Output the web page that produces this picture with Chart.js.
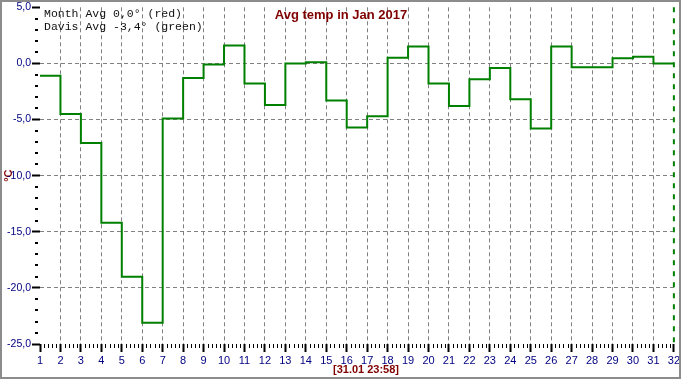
<!DOCTYPE html>
<html>
<head>
<meta charset="utf-8">
<script src="https://cdn.jsdelivr.net/npm/chart.js@4/dist/chart.umd.min.js"></script>
<style>
  body { margin: 0; background: #fff; }
  #wrap { width: 682px; height: 380px; }
</style>
</head>
<body>
<div id="wrap"><canvas id="avg-temp" width="682" height="380"></canvas></div>
<script>
// daily average temperatures, Jan 2017 (°C)
const days = [1, 2, 3, 4, 5, 6, 7, 8, 9, 10, 11, 12, 13, 14, 15, 16,
              17, 18, 19, 20, 21, 22, 23, 24, 25, 26, 27, 28, 29, 30, 31];
const davisAvg = [-1.1, -4.5, -7.1, -14.2, -19.0, -23.1, -4.9, -1.3, -0.1, 1.6, -1.8,
                  -3.7, 0.0, 0.1, -3.3, -5.7, -4.7, 0.5, 1.5, -1.8, -3.8, -1.4,
                  -0.4, -3.2, -5.8, 1.5, -0.35, -0.35, 0.45, 0.6, 0.0];
const monthEnd = 32;
const legendLines = ['Month Avg 0,0\u00b0 (red)', 'Davis Avg -3,4\u00b0 (green)'];
const chartTitle = 'Avg temp in Jan 2017';
const stampText = '[31.01 23:58]';

const green = '#008000';
const navy = '#000080';
const maroon = '#800000';

function stepPoints(xs, ys, endX) {
    let pts = [];
    for (let i = 0; i < xs.length; i++) {
        pts.push({x: xs[i], y: ys[i]});
    }
    // hold the last day until the end of the month
    pts.push({x: endX, y: ys[ys.length - 1]});
    return pts;
}

// minor ticks, texts and frame
const decorations = {
    id: 'decorations',
    afterDraw(chart) {
        const ctx = chart.ctx;
        const xs = chart.scales.x;
        const ys = chart.scales.y;
        ctx.save();
        ctx.strokeStyle = '#000';
        // x minor ticks
        ctx.lineWidth = 1;
        for (let d = xs.min; d < xs.max; d++) {
            for (let k = 1; k < 5; k++) {
                const px = Math.round(xs.getPixelForValue(d + k / 5)) + 0.5;
                ctx.beginPath();
                ctx.moveTo(px, ys.bottom);
                ctx.lineTo(px, ys.bottom + 4);
                ctx.stroke();
            }
        }
        // y minor ticks
        ctx.lineWidth = 2;
        for (let v = ys.min + 1; v < ys.max; v++) {
            if (v % 5 === 0) continue;
            const py = Math.round(ys.getPixelForValue(v));
            ctx.beginPath();
            ctx.moveTo(xs.left - 5, py);
            ctx.lineTo(xs.left - 2, py);
            ctx.stroke();
        }
        // title
        ctx.fillStyle = maroon;
        ctx.font = 'bold 13px "Liberation Sans", Arial, sans-serif';
        ctx.textAlign = 'center';
        ctx.textBaseline = 'alphabetic';
        ctx.fillText(chartTitle, 341, 19);
        // time stamp
        ctx.font = 'bold 11px "Liberation Sans", Arial, sans-serif';
        ctx.fillText(stampText, 366, 373);
        // legend text
        ctx.fillStyle = '#111';
        ctx.font = '11.5px "Liberation Mono", "Courier New", monospace';
        ctx.textAlign = 'left';
        ctx.fillText(legendLines[0], 44, 17);
        ctx.fillText(legendLines[1], 44, 30);
        // frame
        ctx.strokeStyle = '#8c8c8c';
        ctx.lineWidth = 2;
        ctx.strokeRect(1, 1, 679, 377);
        ctx.restore();
    }
};

const tempElement = document.getElementById('avg-temp');
const tempChart = new Chart(tempElement, {
    type: 'line',
    data: {
        datasets: [{
            label: 'Davis Avg',
            data: stepPoints(days, davisAvg, monthEnd),
            borderColor: green,
            borderWidth: 2,
            stepped: true,
            pointRadius: 0,
            fill: false,
            clip: false
        }, {
            label: 'Now',
            data: [{x: monthEnd, y: 5}, {x: monthEnd, y: -25}],
            borderColor: green,
            borderWidth: 2,
            borderDash: [5, 6],
            pointRadius: 0,
            fill: false,
            clip: false
        }]
    },
    options: {
        responsive: false,
        animation: false,
        layout: {padding: {top: 5, right: 5, bottom: 0, left: 0}},
        plugins: {
            legend: {display: false},
            tooltip: {enabled: false},
            title: {display: false}
        },
        scales: {
            x: {
                type: 'linear',
                min: 1,
                max: 32,
                afterFit: function (scale) { scale.height = 36; },
                border: {display: false, dash: [4, 3]},
                grid: {
                    color: function (c) {
                        const v = c.tick && c.tick.value;
                        return (v === 1 || v === 32) ? 'rgba(0,0,0,0)' : '#808080';
                    },
                    lineWidth: 1,
                    drawTicks: true,
                    tickLength: 8,
                    tickColor: '#000',
                    tickWidth: 2
                },
                ticks: {
                    stepSize: 1,
                    autoSkip: false,
                    maxRotation: 0,
                    padding: 2,
                    color: navy,
                    font: {family: '"Liberation Sans", Arial, sans-serif', size: 11}
                }
            },
            y: {
                min: -25,
                max: 5,
                afterFit: function (scale) { scale.width = 40; },
                border: {display: false, dash: [4, 3]},
                grid: {
                    color: function (c) {
                        const v = c.tick && c.tick.value;
                        return (v === 5 || v === -25) ? 'rgba(0,0,0,0)' : '#808080';
                    },
                    lineWidth: 1,
                    drawTicks: true,
                    tickLength: 8,
                    tickColor: '#000',
                    tickWidth: 2
                },
                ticks: {
                    stepSize: 5,
                    padding: 1,
                    color: navy,
                    font: {family: '"Liberation Sans", Arial, sans-serif', size: 10.5},
                    callback: function (v) { return v.toFixed(1).replace('.', ','); }
                },
                title: {
                    display: true,
                    text: '\u00b0C',
                    color: maroon,
                    padding: {top: 2, bottom: 0},
                    font: {family: '"Liberation Sans", Arial, sans-serif', size: 11, weight: 'bold'}
                }
            }
        }
    },
    plugins: [decorations]
});
</script>
</body>
</html>
